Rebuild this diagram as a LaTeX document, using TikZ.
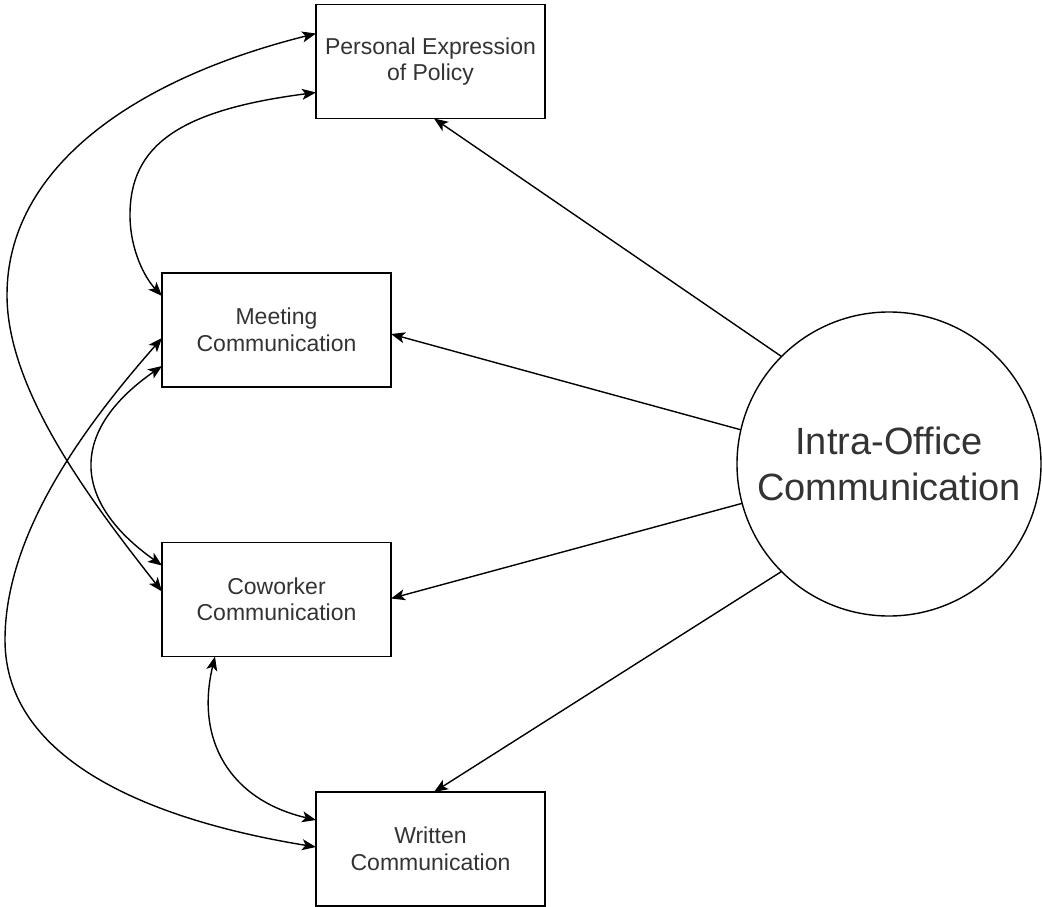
\documentclass[tikz,border=0pt]{standalone}
\usepackage{fontspec}
\setmainfont{Liberation Sans}
\usetikzlibrary{arrows.meta,calc}
\definecolor{ink}{HTML}{333333}
\begin{document}
\begin{tikzpicture}[x=1pt,y=-1pt,
  >={Stealth[length=14pt,width=11pt,inset=3.5pt]},
  box/.style={draw=black, line width=1.7pt, minimum width=229pt, minimum height=114pt,
    inner sep=0pt, outer sep=0pt, align=center, text=ink, font=\fontsize{23}{26.5}\selectfont},
  hub/.style={circle, draw=black, line width=1.4pt, minimum size=304pt, inner sep=0pt,
    outer sep=0pt, align=center, text=ink, font=\fontsize{38}{46}\selectfont},
  link/.style={draw=black, line width=1.4pt, ->},
  both/.style={draw=black, line width=1.4pt, <->}
]
\path[use as bounding box] (0,0) rectangle (1042,907);

% boxes and the central circle
\node[box] (pers) at (430.5,61.5) {Personal Expression\\of Policy};
\node[box] (meet) at (276.5,330) {Meeting\\Communication};
\node[box] (cow)  at (276.5,599.5) {Coworker\\Communication};
\node[box] (wr)   at (430.5,849) {Written\\Communication};
\node[hub] (hub)  at (889,464) {Intra-Office\\Communication};

% arrows from the circle to each box
\draw[link] (hub.135)   -- ($(pers.south west)+(118,0)$);
\draw[link] (hub.167)   -- ($(meet.north east)+(0,61)$);
\draw[link] (hub.195.5) -- ($(cow.north east)+(0,56)$);
\draw[link] (hub.225.5) -- ($(wr.north west)+(118,0)$);

% two-way links between the boxes
\draw[both] ($(pers.north west)+(0,29)$)
  .. controls (130,80) and (7,170) .. (7,295)
  .. controls (7,390) and (90,500) .. ($(cow.north west)+(0,49)$);
\draw[both] ($(pers.north west)+(0,88)$)
  .. controls (180,110) and (130,145) .. (130,215)
  .. controls (130,250) and (145,278) .. ($(meet.north west)+(0,23)$);
\draw[both] ($(meet.north west)+(0,65)$)
  .. controls (90,420) and (5,530) .. (5,640)
  .. controls (5,760) and (150,820) .. ($(wr.north west)+(0,55)$);
\draw[both] ($(meet.north west)+(0,93)$)
  .. controls (70,430) and (70,500) .. ($(cow.north west)+(0,23)$);
\draw[both] ($(cow.south west)+(53,0)$)
  .. controls (195,740) and (230,800) .. ($(wr.north west)+(0,28)$);
\end{tikzpicture}
\end{document}
